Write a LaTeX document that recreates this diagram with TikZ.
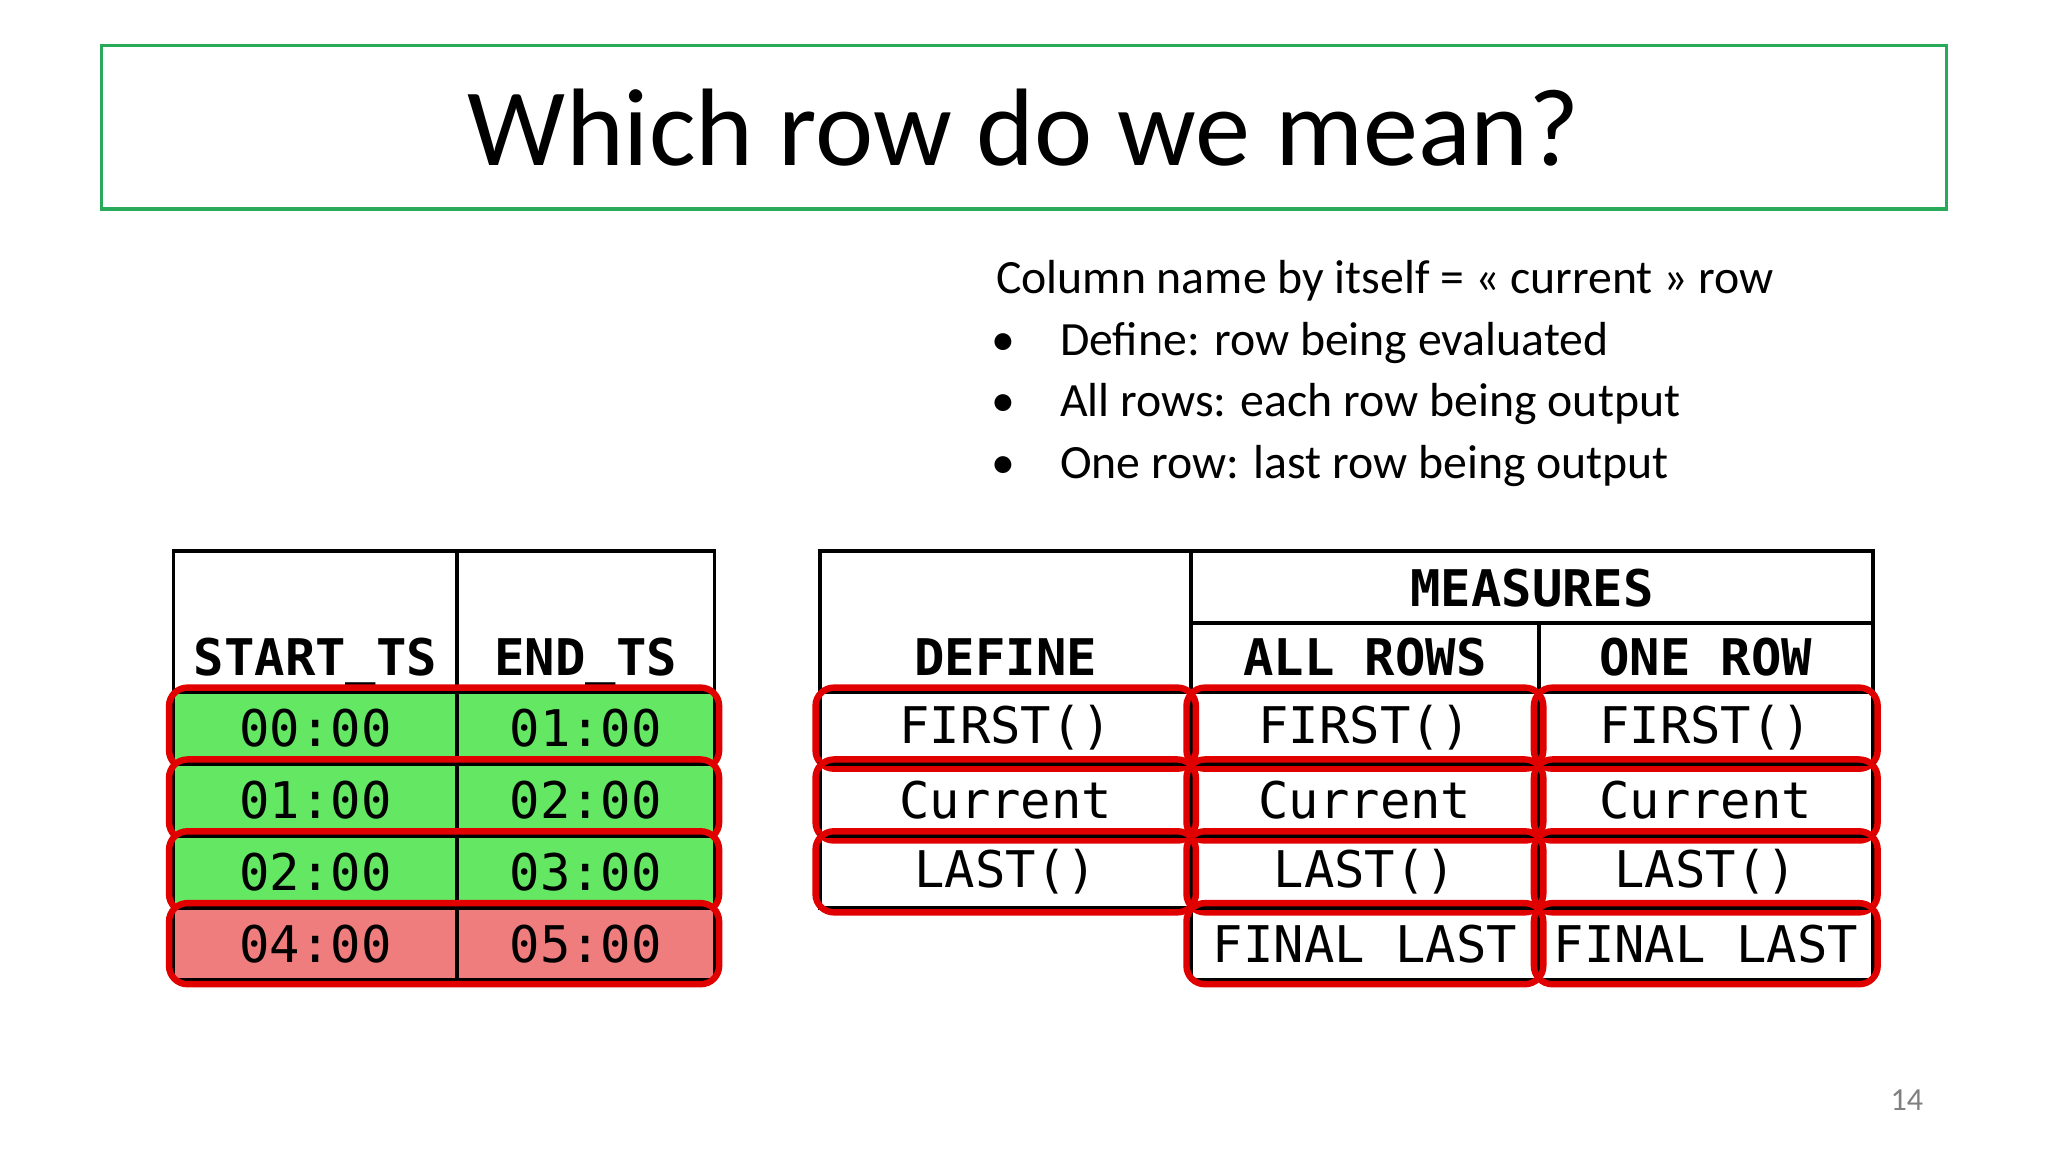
\documentclass[tikz,border=0pt]{standalone}
\usepackage{fontspec}
\setmainfont{Carlito}
\newfontfamily\monofont{DejaVu Sans Mono}
\usetikzlibrary{fit}
\definecolor{titlegreen}{RGB}{40,170,90}
\definecolor{okgreen}{RGB}{100,232,100}
\definecolor{badred}{RGB}{240,125,125}
\definecolor{markred}{RGB}{225,0,0}
\tikzset{
  cell/.style={draw,thick,rectangle,inner sep=0pt,font=\monofont\fontsize{11}{11}\selectfont},
  head/.style={font=\monofont\bfseries\fontsize{11}{11}\selectfont,anchor=base},
  redmark/.style={draw=markred,line width=1.4pt,rounded corners=4pt,inner sep=0.6pt},
  note/.style={anchor=base west,inner sep=0pt,font=\fontsize{10.4}{12}\selectfont},
}
\begin{document}
\begin{tikzpicture}[x=0.01cm,y=-0.01cm]
  \useasboundingbox (0,0) rectangle (1568,882);
  \node [draw=titlegreen,thick,minimum width=14.12cm,minimum height=1.25cm] (title) at (784,97.5)
    {\fontsize{24}{24}\selectfont Which row do we mean?};
  % explanation
  \node [note] (t0) at (762,225) {Column name by itself = « current » row};
  \foreach \y/\txt [count=\i] in {272/Define: row being evaluated,319/All rows: each row being output,366/One row: last row being output}{
    \node [note,anchor=base] (b\i) at (768,\y) {•};
    \node [note] (t\i) at (811,\y) {\txt};
  }
  % left table
  \node [cell,minimum width=2.17cm,minimum height=1.08cm] (lh1) at (241.5,476) {};
  \node [cell,minimum width=1.97cm,minimum height=1.08cm] (lh2) at (448.5,476) {};
  \node [head] (lt1) at (241.5,517) {START\_TS};
  \node [head] (lt2) at (448.5,517) {END\_TS};
  \foreach \y/\a/\b/\c [count=\i] in {557.5/00:00/01:00/okgreen,612.5/01:00/02:00/okgreen,667.5/02:00/03:00/okgreen,722.5/04:00/05:00/badred}{
    \node [cell,fill=\c,minimum width=2.17cm,minimum height=0.55cm] (l\i a) at (241.5,\y) {\a};
    \node [cell,fill=\c,minimum width=1.97cm,minimum height=0.55cm] (l\i b) at (448.5,\y) {\b};
    \node [redmark,fit=(l\i a)(l\i b)] (lm\i) {};
  }
  % right table
  \node [cell,minimum width=2.84cm,minimum height=1.08cm] (rdef) at (770,476) {};
  \node [cell,minimum width=5.22cm,minimum height=0.55cm] (rmeas) at (1173,449.5) {};
  \node [cell,minimum width=2.66cm,minimum height=0.53cm] (rall) at (1045,503.5) {};
  \node [cell,minimum width=2.56cm,minimum height=0.53cm] (rone) at (1306,503.5) {};
  \node [head] (rt0) at (1173,464) {MEASURES};
  \node [head] (rt1) at (770,517) {DEFINE};
  \node [head] (rt2) at (1045,517) {ALL ROWS};
  \node [head] (rt3) at (1306,517) {ONE ROW};
  \foreach \y/\txt [count=\i] in {557.5/FIRST(),612.5/Current,667.5/LAST()}{
    \node [cell,minimum width=2.84cm,minimum height=0.55cm] (r\i a) at (770,\y) {\txt};
    \node [cell,minimum width=2.66cm,minimum height=0.55cm] (r\i b) at (1045,\y) {\txt};
    \node [cell,minimum width=2.56cm,minimum height=0.55cm] (r\i c) at (1306,\y) {\txt};
    \foreach \k in {a,b,c}
      \node [redmark,fit=(r\i\k)] (rm\i\k) {};
  }
  \node [cell,minimum width=2.66cm,minimum height=0.55cm] (r4b) at (1045,722.5) {FINAL LAST};
  \node [cell,minimum width=2.56cm,minimum height=0.55cm] (r4c) at (1306,722.5) {FINAL LAST};
  \node [redmark,fit=(r4b)] (rm4b) {};
  \node [redmark,fit=(r4c)] (rm4c) {};
  \node [text=gray,font=\fontsize{7}{7}\selectfont] (page) at (1460,842) {14};
\end{tikzpicture}
\end{document}
